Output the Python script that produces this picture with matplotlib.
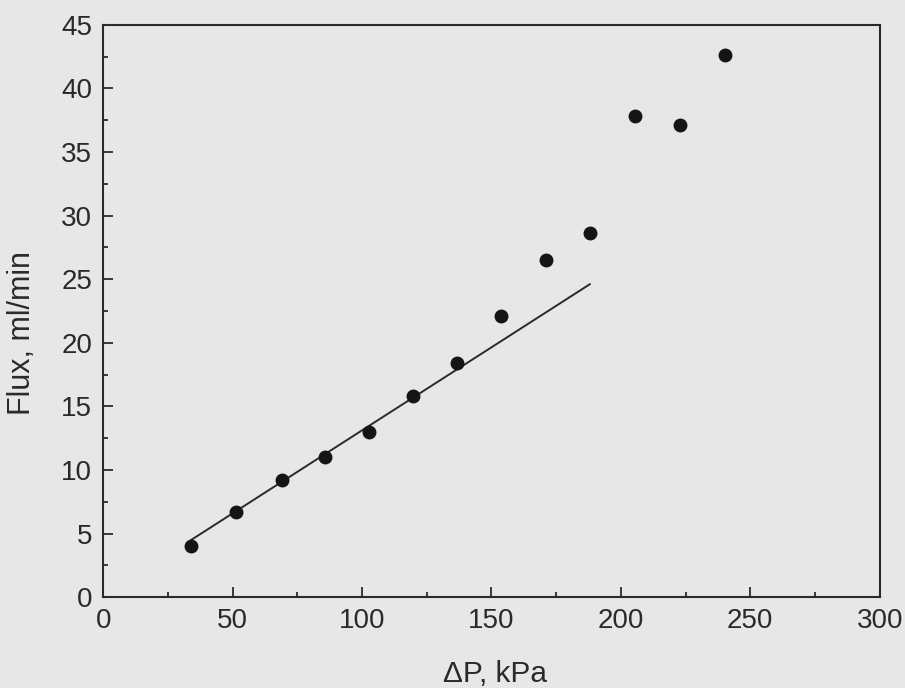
import matplotlib
matplotlib.use("Agg")
import matplotlib.pyplot as plt
from matplotlib.ticker import MultipleLocator

# Data
dp_kpa = [34.0, 51.4, 69.1, 85.7, 102.7, 119.7, 136.7, 153.7, 171.0, 188.0, 205.4, 222.8, 240.2]
flux = [4.0, 6.7, 9.2, 11.0, 13.0, 15.8, 18.4, 22.1, 26.5, 28.6, 37.8, 37.1, 42.6]
fit_x = [34.0, 188.0]
fit_y = [4.5, 24.6]

x_ticks = [0, 50, 100, 150, 200, 250, 300]
y_ticks = [0, 5, 10, 15, 20, 25, 30, 35, 40, 45]

plt.rcParams['font.family'] = ['Liberation Sans', 'DejaVu Sans']
bg = '#e7e7e7'
ink = '#2a2a2a'

fig = plt.figure(figsize=(9.05, 6.88), dpi=100, facecolor=bg)
ax = fig.add_axes([0.114, 0.132, 0.858, 0.832], facecolor=bg)

ax.plot(fit_x, fit_y, color=ink, lw=1.4)
ax.plot(dp_kpa, flux, 'o', color='#151515', ms=9, mec='#151515')

ax.set_xlim(0, 300)
ax.set_ylim(0, 45)
ax.set_xticks(x_ticks)
ax.set_yticks(y_ticks)
ax.xaxis.set_minor_locator(MultipleLocator(25))
ax.yaxis.set_minor_locator(MultipleLocator(2.5))
ax.tick_params(which='both', direction='in', top=False, right=False, color=ink, width=1.3,
               labelsize=20, labelcolor=ink)
ax.tick_params(which='major', length=7, pad=8)
ax.tick_params(which='minor', length=3.5)
for s in ax.spines.values():
    s.set_color(ink)
    s.set_linewidth(1.5)

ax.set_xlabel('ΔP, kPa', fontsize=21.5, color=ink)
ax.xaxis.set_label_coords(0.504, -0.148)
ax.xaxis.label.set_va('baseline')
ax.set_ylabel('Flux, ml/min', fontsize=22, color=ink)
ax.yaxis.label.set_rotation_mode('default')
ax.yaxis.label.set_va('center')
ax.yaxis.label.set_ha('center')
ax.yaxis.set_label_coords(-0.104, 0.462)

fig.savefig('out.png', dpi=100, facecolor=bg)
